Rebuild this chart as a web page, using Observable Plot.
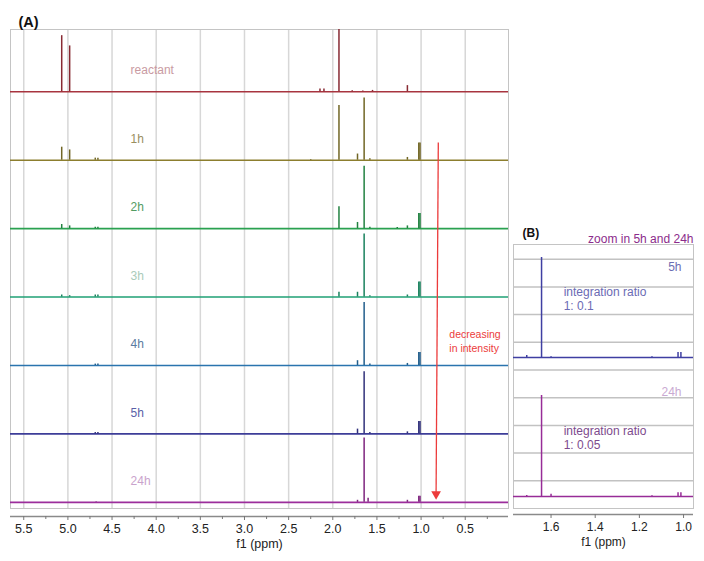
<!DOCTYPE html>
<html><head><meta charset="utf-8">
<script src="https://cdn.jsdelivr.net/npm/d3@7"></script>
<script src="https://cdn.jsdelivr.net/npm/@observablehq/plot@0.6"></script>
<style>
body{margin:0;background:#fff;font-family:"Liberation Sans",Arial,sans-serif;}
#wrap{position:relative;width:704px;height:561px;overflow:hidden;background:#fff}
#wrap svg{position:absolute;top:0}
</style></head><body><div id="wrap"></div>
<script>
// ---- Panel A data ----
const series = ["reactant", "1h", "2h", "3h", "4h", "5h", "24h"];
const lineColors = ["#a8343f", "#8c7e2e", "#2aa150", "#1fa175", "#2a74ae", "#3d3d98", "#9c2e9c"];
const labelColors = ["#c99ba2", "#9a8f5e", "#529c62", "#a9cbb9", "#5a7ba0", "#5a5fa8", "#c9a3cc"];
// peaks: [ppm, intensity]
const peaksReactant = [[5.07, 82], [4.98, 67], [2.145, 4], [2.10, 4], [1.93, 93], [1.78, 1.5], [1.66, 1], [1.55, 2], [1.155, 9]];
const peaks1h = [[5.07, 19], [4.98, 15], [4.69, 3], [4.66, 3], [2.25, 1], [1.93, 80], [1.72, 9], [1.645, 91], [1.58, 2], [1.155, 4], [1.026, 25], [1.012, 25]];
const peaks2h = [[5.07, 6], [4.98, 4], [4.69, 2], [4.66, 2], [1.93, 32], [1.72, 9], [1.645, 91], [1.58, 2], [1.27, 1.5], [1.155, 4], [1.026, 22], [1.012, 22]];
const peaks3h = [[5.07, 3], [4.98, 2], [4.69, 3], [4.66, 3], [1.93, 7], [1.72, 7], [1.645, 92], [1.58, 2], [1.155, 3], [1.026, 22], [1.012, 22]];
const peaks4h = [[4.69, 2], [4.66, 2], [1.72, 7], [1.645, 92], [1.58, 2], [1.155, 3], [1.026, 19], [1.012, 19]];
const peaks5h = [[4.69, 2], [4.66, 2], [1.72, 7], [1.645, 91], [1.58, 2], [1.155, 3], [1.026, 18], [1.012, 18]];
const peaks24h = [[4.68, 1], [1.72, 3], [1.645, 94], [1.60, 6], [1.155, 3], [1.026, 9], [1.012, 9]];
const peaksA = [peaksReactant, peaks1h, peaks2h, peaks3h, peaks4h, peaks5h, peaks24h];
const ticksA = [5.5, 5.0, 4.5, 4.0, 3.5, 3.0, 2.5, 2.0, 1.5, 1.0, 0.5];
const minorTicksA = [5.25, 4.75, 4.25, 3.75, 3.25, 2.75, 2.25, 1.75, 1.25, 0.75, 0.25];
const arrowPpm = [0.805, 0.83];      // top, bottom
const arrowLevel = [535, 24];        // top, bottom
const arrowText = "decreasing\nin intensity";

// ---- Panel B data ----
const zoomSeries = ["5h", "24h"];
const zoomLineColors = ["#3f3fa2", "#972c97"];
const zoomLabelColors = ["#6b6db3", "#c9aad2"];
const zoomTextColors = ["#6b6bb4", "#7d4a8d"];
const zoomTexts = ["integration ratio\n1: 0.1", "integration ratio\n1: 0.05"];
const peaksZoom5h = [[1.71, 0.07], [1.643, 3.61], [1.60, 0.03], [1.143, 0.03], [1.025, 0.18], [1.012, 0.18]];
const peaksZoom24h = [[1.71, 0.04], [1.643, 3.65], [1.60, 0.08], [1.143, 0.03], [1.025, 0.14], [1.012, 0.14]];
const peaksB = [peaksZoom5h, peaksZoom24h];
const ticksB = [1.6, 1.4, 1.2, 1.0];
const gridB = [1, 2, 3, 4, 5, 6, 7, 8, 9];

const FONT = "Liberation Sans, Arial, sans-serif";
const fmt = d3.format(".1f");

// ---- build panel A ----
const stepA = 100, baseA0 = 9;
const baseRows = series.map((name, i) => ({
  name, base: baseA0 + stepA * (series.length - 1 - i),
  color: lineColors[i], label: labelColors[i]
}));
const peakRowsA = series.flatMap((name, i) => peaksA[i].map(([ppm, h]) => ({
  ppm, base: baseRows[i].base, top: baseRows[i].base + h,
  color: d3.color(lineColors[i]).darker(0.6).formatHex()
})));

const plotA = Plot.plot({
  width: 512, height: 561,
  marginLeft: 10, marginRight: 4, marginTop: 29, marginBottom: 45,
  style: {background: "transparent", fontFamily: FONT, overflow: "visible"},
  x: {domain: [5.65, 0.01], label: null},
  y: {domain: [0, 700], range: [508, 29], axis: null},
  color: {type: "identity"},
  marks: [
    Plot.ruleX(ticksA, {y1: 0, y2: 700, stroke: "#d7d7d7", strokeWidth: 1.5}),
    Plot.frame({stroke: "#c4c4c4", insetBottom: 8}),
    Plot.ruleY(baseRows, {y: "base", stroke: "color", strokeWidth: 1.6}),
    Plot.ruleX(peakRowsA, {x: "ppm", y1: "base", y2: "top", stroke: "color", strokeWidth: 1.5, clip: true}),
    Plot.text(baseRows, {x: 4.29, y: d => d.base + 31, text: "name", fill: "label", textAnchor: "start", fontSize: 12}),
    Plot.link([0], {x1: arrowPpm[0], y1: arrowLevel[0], x2: arrowPpm[1], y2: arrowLevel[1], stroke: "#ec3b3b", strokeWidth: 1.3}),
    Plot.dot([0], {x: arrowPpm[1], y: arrowLevel[1], symbol: "triangle", rotate: 180, r: 3.6, fill: "#ec3b3b", dy: 2}),
    Plot.text([arrowText], {x: 0.68, y: 245, textAnchor: "start", fill: "#ec3b3b", fontSize: 10.5, lineHeight: 1.25}),
    Plot.ruleY([0], {dy: 8, stroke: "#8a8a8a", strokeWidth: 1.3}),
    Plot.axisX({ticks: ticksA, tickFormat: fmt, tickSize: 4, tickPadding: 4, fontSize: 12.5, stroke: "#777", fill: "#222", label: null}),
    Plot.axisX({ticks: minorTicksA, tickFormat: () => "", tickSize: 3, stroke: "#777", label: null}),
    Plot.text(["f1 (ppm)"], {frameAnchor: "bottom", dy: 31, fontSize: 12.5, fill: "#222"}),
    Plot.text(["(A)"], {frameAnchor: "top-left", dx: 8, dy: -13, textAnchor: "start", fontWeight: "bold", fontSize: 14.5, fill: "#111"})
  ]
});

// ---- build panel B ----
const baseB = [5.45, 0.43];
const zoomRows = zoomSeries.map((name, i) => ({
  name, base: baseB[i], color: zoomLineColors[i], label: zoomLabelColors[i],
  text: zoomTexts[i], textColor: zoomTextColors[i]
}));
const peakRowsB = zoomSeries.flatMap((name, i) => peaksB[i].map(([ppm, h]) => ({
  ppm, base: baseB[i], top: baseB[i] + h, color: zoomLineColors[i]
})));
const labelDy = [3.25, 3.76];

const plotB = Plot.plot({
  width: 194, height: 561,
  marginLeft: 3, marginRight: 11, marginTop: 244, marginBottom: 47,
  style: {background: "transparent", fontFamily: FONT, overflow: "visible"},
  x: {domain: [1.77, 0.955], label: null},
  y: {domain: [0, 9.53], range: [508, 244], axis: null},
  color: {type: "identity"},
  marks: [
    Plot.ruleY(gridB, {stroke: "#c2c2c2", strokeWidth: 1.5}),
    Plot.frame({stroke: "#c4c4c4", insetBottom: 6}),
    Plot.ruleY(zoomRows, {y: "base", stroke: "color", strokeWidth: 1.5}),
    Plot.ruleX(peakRowsB, {x: "ppm", y1: "base", y2: "top", stroke: "color", strokeWidth: 1.5}),
    Plot.text(zoomRows, {frameAnchor: "right", dx: -12, y: (d, i) => d.base + labelDy[i], text: "name", fill: "label", textAnchor: "end", fontSize: 12}),
    Plot.text(zoomRows, {x: 1.543, y: d => d.base + 2.12, text: "text", fill: "textColor", textAnchor: "start", fontSize: 12, lineHeight: 1.17}),
    Plot.ruleY([0], {dy: 6, stroke: "#8a8a8a", strokeWidth: 1.3}),
    Plot.axisX({ticks: ticksB, tickFormat: fmt, tickSize: 4, tickPadding: 4, fontSize: 12, stroke: "#777", fill: "#222", label: null}),
    Plot.text(["f1 (ppm)"], {frameAnchor: "bottom", dy: 31, fontSize: 12, fill: "#222"}),
    Plot.text(["(B)"], {frameAnchor: "top-left", dx: 9, dy: -16, textAnchor: "start", fontWeight: "bold", fontSize: 12, fill: "#111"}),
    Plot.text(["zoom in 5h and 24h"], {frameAnchor: "top-right", dy: -10, textAnchor: "end", fontSize: 12, fill: "#8b2b8b"})
  ]
});

const wrap = document.getElementById("wrap");
plotA.style.left = "0px";
plotB.style.left = "510px";
wrap.appendChild(plotA);
wrap.appendChild(plotB);
</script></body></html>
